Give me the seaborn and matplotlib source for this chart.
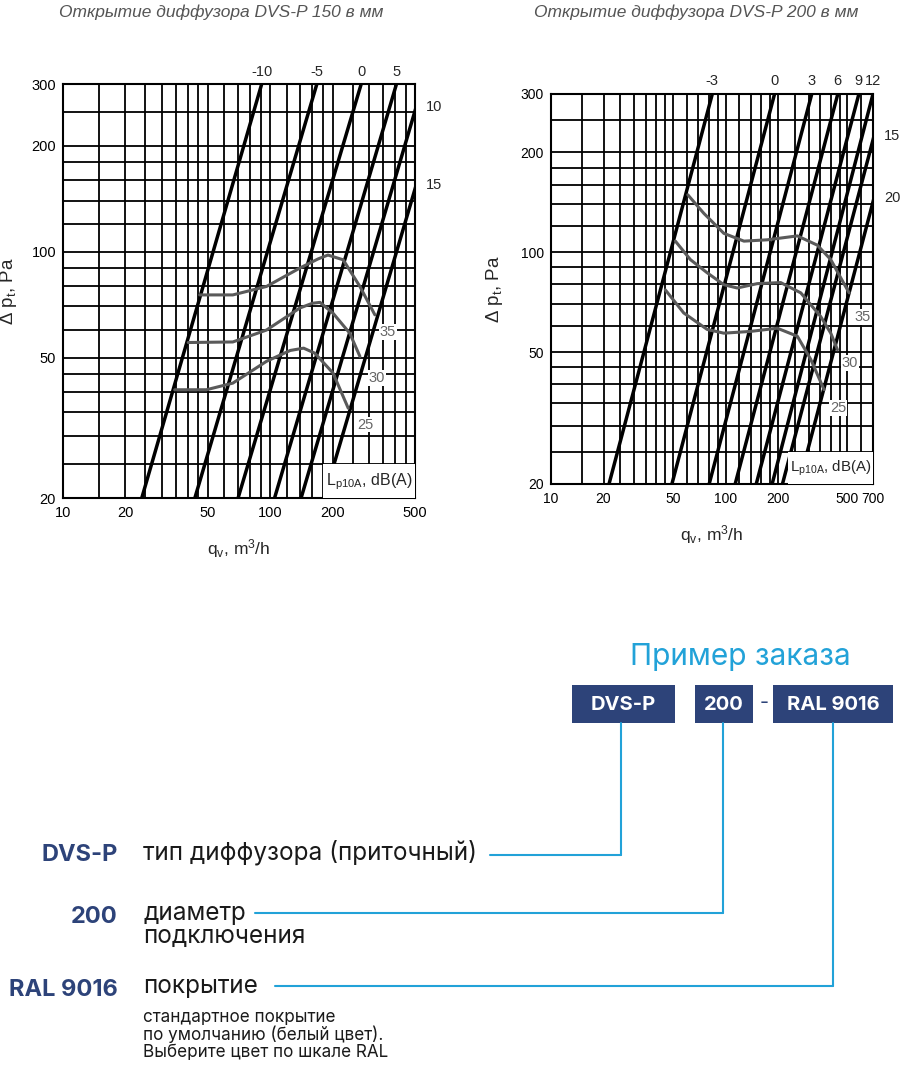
import numpy as np
import pandas as pd
import matplotlib
matplotlib.use("Agg")
import matplotlib.pyplot as plt
from matplotlib.patches import Rectangle
from matplotlib.ticker import NullFormatter, FixedLocator
import seaborn as sns

# ---- data ----
# left chart: DVS-P 150
l_xgrid = [10, 15, 20, 25, 30, 35, 40, 45, 50, 60, 70, 80, 90, 100, 120, 140, 160, 180,
           200, 250, 300, 350, 400, 450, 500]
r_xgrid = l_xgrid + [600, 700]
ygrid = [20, 25, 30, 35, 40, 45, 50, 60, 70, 80, 90, 100, 120, 140, 160, 180, 200, 250, 300]

l_xticks = [10, 20, 50, 100, 200, 500]
r_xticks = [10, 20, 50, 100, 200, 500, 700]
yticks = [20, 50, 100, 200, 300]

# straight noise lines: flow at 20 Pa and at 300 Pa
l_line_labels = ["-10", "-5", "0", "5", "10", "15"]
l_line_q20 = [24, 43.3, 70, 105, 141, 182]
l_line_q300 = [91, 168, 275, 407, 546, 705]

r_line_labels = ["-3", "0", "3", "6", "9", "12", "15", "20"]
r_line_q20 = [21.5, 49.3, 80.6, 113.6, 150, 185, 212, 263]
r_line_q300 = [84, 191, 312, 440, 581, 700, 821, 1018]

# curves (sound level 25/30/35 dB(A))
l_c35_q = [45.7, 66, 96, 139, 170, 190, 225, 271, 320]
l_c35_p = [75.5, 75.5, 79.8, 90, 95.5, 98, 95, 79.8, 66.3]
l_c30_q = [40.2, 66, 96, 139, 160, 174, 201, 242, 271]
l_c30_p = [55.3, 55.5, 60, 69.3, 71.5, 71.9, 67, 58.8, 50.5]
l_c25_q = [34.6, 49.2, 66, 96, 125, 145, 164, 201, 238]
l_c25_p = [40.6, 40.6, 42.4, 48.9, 52.5, 53.3, 51.6, 45.3, 36]

r_c35_q = [60.8, 75.1, 97.8, 127.5, 173.5, 258, 336, 401, 458, 511]
r_c35_p = [149, 131, 114, 108, 109, 112, 105, 95, 83.6, 75.4]
r_c30_q = [51.6, 62.9, 78.5, 97.8, 116.7, 152, 207, 270, 351, 401, 438]
r_c30_p = [108, 95, 86.7, 79.8, 78, 80.4, 81, 75.4, 64, 57, 50.8]
r_c25_q = [45.2, 57.6, 78.5, 97.8, 139, 198, 258, 308, 367]
r_c25_p = [77, 65.6, 58.5, 57, 57.7, 59, 55.8, 47.5, 38.5]

curve_labels = ["25", "30", "35"]

titles = ["Открытие диффузора DVS-P 150 в мм", "Открытие диффузора DVS-P 200 в мм"]

order_codes = ["DVS-P", "200", "RAL 9016"]
order_desc = ["тип диффузора (приточный)", "диаметр\nподключения", "покрытие"]
order_note = "стандартное покрытие\nпо умолчанию (белый цвет).\nВыберите цвет по шкале RAL"

# ---- style ----
sns.set_style("white")
plt.rcParams["font.family"] = ["Liberation Sans", "DejaVu Sans"]
plt.rcParams["mathtext.fontset"] = "custom"
plt.rcParams["mathtext.rm"] = "Liberation Sans"
plt.rcParams["mathtext.it"] = "Liberation Sans:italic"

NAVY = "#2d4379"
CYAN = "#22a2d8"
GRAY = "#555555"

fig = plt.figure(figsize=(9, 10.66), dpi=100)

# background overlay for the order example (pixel coords)
ov = fig.add_axes([0, 0, 1, 1])
ov.set_xlim(0, 900)
ov.set_ylim(1066, 0)
ov.set_axis_off()
ov.patch.set_alpha(0)

axL = fig.add_axes([63 / 900, 1 - 498 / 1066, 352 / 900, 414 / 1066])
axR = fig.add_axes([551 / 900, 1 - 484 / 1066, 322 / 900, 390 / 1066])


def draw_chart(ax, xmax, xgrid, xticks, line_labels, q20, q300, curves, lbl_pos, box_q,
               title, title_x, ylab_x, tsize, lsize):
    ax.set_xscale("log")
    ax.set_yscale("log")
    ax.set_xlim(10, xmax)
    ax.set_ylim(20, 300)
    ax.xaxis.set_major_locator(FixedLocator(xticks))
    ax.xaxis.set_minor_locator(FixedLocator(xgrid))
    ax.yaxis.set_major_locator(FixedLocator(yticks))
    ax.yaxis.set_minor_locator(FixedLocator(ygrid))
    ax.set_xticklabels([str(t) for t in xticks])
    ax.set_yticklabels([str(t) for t in yticks])
    ax.xaxis.set_minor_formatter(NullFormatter())
    ax.yaxis.set_minor_formatter(NullFormatter())
    ax.tick_params(which="both", length=0, labelsize=tsize, colors="black")
    ax.tick_params(axis="x", pad=6)
    ax.tick_params(axis="y", pad=5)
    ax.grid(which="both", color="black", lw=1.3)
    for s in ax.spines.values():
        s.set_color("black")
        s.set_linewidth(1.5)

    # thick straight lines
    for lab, a, b in zip(line_labels, q20, q300):
        df = pd.DataFrame({"q": [a, b], "p": [20, 300]})
        sns.lineplot(data=df, x="q", y="p", ax=ax, color="black", lw=2.5, zorder=3)
        slope = np.log(300 / 20) / np.log(b / a)
        if b <= xmax * 1.02:
            ax.annotate(lab, xy=(min(b, xmax), 300), xytext=(0, 9), textcoords="offset points",
                        ha="center", va="center", fontsize=10.5, annotation_clip=False)
        else:
            pe = 20 * (xmax / a) ** slope
            ax.annotate(lab, xy=(xmax, pe), xytext=(8, 3), textcoords="offset points",
                        ha="left", va="center", fontsize=10.5, annotation_clip=False)

    # sound level curves
    for (cq, cp) in curves:
        sns.lineplot(x=cq, y=cp, ax=ax, color="#5a5a5a", lw=2.2, zorder=4)
    for lab, (tx, ty) in zip(curve_labels, lbl_pos):
        ax.text(tx, ty, lab, fontsize=10.5, color="#666666", ha="center", va="center", zorder=6,
                bbox=dict(facecolor="white", edgecolor="none", pad=0.5))

    # label box
    ax.add_patch(Rectangle((box_q, 20), xmax - box_q, 5, facecolor="white", edgecolor="none", zorder=5))
    ax.text(box_q * 1.03, 22.3, r"L$_\mathrm{p10A}$, dB(A)", fontsize=lsize, ha="left", va="center", zorder=6)

    ax.set_xlabel(r"q$_\mathrm{v}$, m$^3$/h", fontsize=12.5, labelpad=12)
    ax.set_ylabel(r"Δ p$_\mathrm{t}$, Pa", fontsize=13.5)
    ax.yaxis.set_label_coords(ylab_x, 0.5)
    fig.text(title_x, 1 - 12 / 1066, title, ha="center", va="center", fontsize=12.5,
             style="italic", color=GRAY, family=["Liberation Sans", "DejaVu Sans"])


draw_chart(axL, 500, l_xgrid, l_xticks, l_line_labels, l_line_q20, l_line_q300,
           [(l_c25_q, l_c25_p), (l_c30_q, l_c30_p), (l_c35_q, l_c35_p)],
           [(287, 32.3), (328, 43.9), (370, 59.3)], 180, titles[0], 221 / 900, -0.125,
           10.5, 11.5)
draw_chart(axR, 700, r_xgrid, r_xticks, r_line_labels, r_line_q20, r_line_q300,
           [(r_c25_q, r_c25_p), (r_c30_q, r_c30_p), (r_c35_q, r_c35_p)],
           [(441, 33.9), (517, 46.4), (614, 63.8)], 228, titles[1], 696 / 900, -0.143,
           10, 10.8)

# ---- order example ----
BF = ["Inter", "DejaVu Sans"]
ov.text(740, 657, "Пример заказа", color=CYAN, fontsize=21.5, ha="center", va="center", family=BF)
boxes = [(572, 675), (695, 753), (773, 893)]
for (x0, x1), code in zip(boxes, order_codes):
    ov.add_patch(Rectangle((x0, 685), x1 - x0, 38, facecolor=NAVY, edgecolor="none"))
    ov.text((x0 + x1) / 2, 704.5, code, color="white", fontsize=14.5, fontweight="bold",
            ha="center", va="center", family=BF)
ov.text(764, 703, "-", color=NAVY, fontsize=14, ha="center", va="center", family=BF)

conn_x = [621, 723, 833]
conn_y = [855, 913, 986]
conn_start = [490, 255, 275]
for cx, cy, sx in zip(conn_x, conn_y, conn_start):
    ov.plot([cx, cx], [723, cy], color=CYAN, lw=1.5)
    ov.plot([sx, cx], [cy, cy], color=CYAN, lw=1.5)

code_y = [855, 917, 990]
for code, y in zip(order_codes, code_y):
    ov.text(118, y, code, color=NAVY, fontsize=17, fontweight="bold", ha="right", va="center", family=BF)
ov.text(143, 852, order_desc[0], fontsize=17.5, color="#1a1a1a", ha="left", va="center", family=BF)
ov.text(143, 925, order_desc[1], fontsize=17.5, color="#1a1a1a", ha="left", va="center",
        linespacing=1.0, family=BF)
ov.text(143, 986, order_desc[2], fontsize=17.5, color="#1a1a1a", ha="left", va="center", family=BF)
ov.text(143, 1035, order_note, fontsize=12.3, color="#1a1a1a", ha="left", va="center",
        linespacing=1.0, family=BF)

fig.savefig("out.png", dpi=100)
